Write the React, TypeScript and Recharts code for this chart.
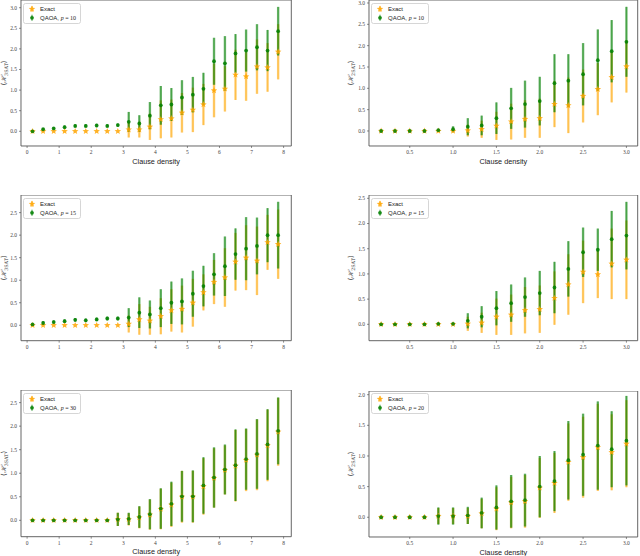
import React from 'react';
import { ScatterChart, Scatter, XAxis, YAxis, ErrorBar, ReferenceArea } from 'recharts';

// clause densities (x) for the 3-SAT (left) and 2-SAT (right) panels
const density3 = [0.17, 0.5, 0.83, 1.17, 1.5, 1.83, 2.17, 2.5, 2.83, 3.17, 3.5, 3.83, 4.17, 4.5, 4.83, 5.17, 5.5, 5.83, 6.17, 6.5, 6.83, 7.17, 7.5, 7.83];
const density2 = [0.17, 0.33, 0.5, 0.67, 0.83, 1.0, 1.17, 1.33, 1.5, 1.67, 1.83, 2.0, 2.17, 2.33, 2.5, 2.67, 2.83, 3.0];

const ticks3 = [0, 1, 2, 3, 4, 5, 6, 7, 8];
const ticks2 = [0.5, 1.0, 1.5, 2.0, 2.5, 3.0];

// 3-SAT, p = 10
const exact3p10 = [0, 0, 0, 0, 0, 0, 0, 0, 0, 0.04, 0.04, 0.11, 0.29, 0.31, 0.45, 0.52, 0.65, 0.99, 1.03, 1.37, 1.33, 1.57, 1.55, 1.93];
const exact3p10Std = [0, 0, 0, 0, 0, 0, 0, 0, 0, 0.19, 0.19, 0.32, 0.46, 0.46, 0.48, 0.54, 0.5, 0.65, 0.55, 0.61, 0.59, 0.66, 0.59, 0.67];
const qaoa3p10 = [0.0, 0.05, 0.07, 0.1, 0.13, 0.13, 0.14, 0.13, 0.15, 0.23, 0.19, 0.38, 0.63, 0.65, 0.82, 0.89, 1.03, 1.7, 1.65, 1.89, 1.96, 2.04, 1.96, 2.43];
const qaoa3p10Std = [0.01, 0.03, 0.03, 0.04, 0.04, 0.04, 0.04, 0.04, 0.04, 0.24, 0.2, 0.33, 0.47, 0.4, 0.42, 0.43, 0.39, 0.57, 0.66, 0.47, 0.51, 0.56, 0.5, 0.59];

// 2-SAT, p = 10
const exact2p10 = [0, 0, 0, 0, 0, 0, 0.01, 0.04, 0.12, 0.22, 0.28, 0.3, 0.63, 0.6, 0.82, 0.98, 1.26, 1.51];
const exact2p10Std = [0, 0, 0, 0, 0, 0.01, 0.14, 0.2, 0.33, 0.42, 0.44, 0.46, 0.54, 0.65, 0.62, 0.61, 0.59, 0.61];
const qaoa2p10 = [0, 0, 0, 0, 0.02, 0.04, 0.1, 0.13, 0.3, 0.53, 0.63, 0.7, 1.12, 1.18, 1.33, 1.66, 1.87, 2.09];
const qaoa2p10Std = [0.01, 0.01, 0.01, 0.01, 0.02, 0.07, 0.2, 0.23, 0.37, 0.48, 0.55, 0.57, 0.68, 0.62, 0.73, 0.72, 0.73, 0.82];

// 3-SAT, p = 15
const exact3p15 = [0, 0, 0, 0, 0, 0, 0, 0, 0, 0.03, 0.13, 0.1, 0.2, 0.33, 0.36, 0.5, 0.73, 0.96, 1.06, 1.41, 1.5, 1.43, 1.84, 1.8];
const exact3p15Std = [0, 0, 0, 0, 0, 0, 0, 0, 0, 0.19, 0.34, 0.31, 0.4, 0.47, 0.52, 0.53, 0.4, 0.49, 0.65, 0.64, 0.72, 0.76, 0.61, 0.77];
const qaoa3p15 = [0.02, 0.05, 0.07, 0.09, 0.12, 0.11, 0.13, 0.15, 0.15, 0.17, 0.28, 0.24, 0.38, 0.5, 0.53, 0.7, 0.87, 1.13, 1.31, 1.58, 1.7, 1.76, 2.0, 2.0];
const qaoa3p15Std = [0.02, 0.04, 0.04, 0.04, 0.04, 0.04, 0.04, 0.04, 0.04, 0.21, 0.34, 0.31, 0.42, 0.47, 0.51, 0.51, 0.45, 0.47, 0.66, 0.57, 0.7, 0.63, 0.6, 0.74];

// 2-SAT, p = 15
const exact2p15 = [0, 0, 0, 0, 0, 0, 0.01, 0.03, 0.15, 0.19, 0.28, 0.3, 0.52, 0.79, 1.04, 0.99, 1.2, 1.28];
const exact2p15Std = [0, 0, 0, 0, 0, 0, 0.14, 0.2, 0.36, 0.4, 0.46, 0.47, 0.53, 0.6, 0.62, 0.47, 0.7, 0.78];
const qaoa2p15 = [0, 0, 0, 0, 0.01, 0.01, 0.07, 0.15, 0.32, 0.42, 0.54, 0.62, 0.73, 1.1, 1.43, 1.48, 1.69, 1.76];
const qaoa2p15Std = [0.01, 0.01, 0.01, 0.01, 0.01, 0.01, 0.15, 0.21, 0.34, 0.37, 0.39, 0.44, 0.51, 0.55, 0.49, 0.42, 0.56, 0.67];

// 3-SAT, p = 30
const exact3p30 = [0, 0, 0, 0, 0, 0, 0, 0, 0.02, 0.02, 0.06, 0.12, 0.24, 0.33, 0.5, 0.5, 0.72, 0.9, 1.07, 1.16, 1.28, 1.39, 1.59, 1.88];
const exact3p30Std = [0, 0, 0, 0, 0, 0, 0, 0, 0.14, 0.13, 0.23, 0.32, 0.43, 0.47, 0.55, 0.55, 0.6, 0.63, 0.52, 0.76, 0.66, 0.75, 0.76, 0.72];
const qaoa3p30 = [0, 0, 0, 0, 0, 0, 0, 0, 0.02, 0.03, 0.07, 0.13, 0.25, 0.35, 0.51, 0.51, 0.74, 0.91, 1.08, 1.17, 1.3, 1.41, 1.61, 1.9];
const qaoa3p30Std = [0, 0, 0, 0, 0, 0, 0, 0, 0.14, 0.13, 0.23, 0.32, 0.43, 0.47, 0.54, 0.55, 0.6, 0.64, 0.53, 0.76, 0.65, 0.74, 0.75, 0.71];

// 2-SAT, p = 20
const exact2p20 = [0, 0, 0, 0, 0.02, 0.02, 0.02, 0.06, 0.14, 0.24, 0.26, 0.48, 0.56, 0.9, 0.98, 1.14, 1.06, 1.2];
const exact2p20Std = [0, 0, 0, 0, 0.13, 0.13, 0.13, 0.24, 0.35, 0.42, 0.43, 0.49, 0.49, 0.63, 0.66, 0.71, 0.62, 0.71];
const qaoa2p20 = [0, 0, 0, 0, 0.02, 0.02, 0.03, 0.07, 0.16, 0.26, 0.28, 0.5, 0.59, 0.93, 1.02, 1.17, 1.11, 1.25];
const qaoa2p20Std = [0, 0, 0, 0, 0.14, 0.14, 0.14, 0.25, 0.36, 0.43, 0.43, 0.5, 0.49, 0.64, 0.67, 0.72, 0.62, 0.73];

const ORANGE = '#FFA500';
const GREEN = '#008000';

const toRows = (xs: number[], ys: number[], err: number[]) => xs.map((x, i) => ({ x, y: ys[i], err: err[i] }));

const StarMark = (props: any) => {
  const { cx, cy } = props;
  if (cx == null || cy == null) return null;
  const pts: string[] = [];
  for (let i = 0; i < 10; i++) {
    const r = i % 2 === 0 ? 3.4 : 1.5;
    const a = -Math.PI / 2 + (i * Math.PI) / 5;
    pts.push(`${cx + r * Math.cos(a)},${cy + r * Math.sin(a)}`);
  }
  return <polygon points={pts.join(' ')} fill={ORANGE} fillOpacity={0.85} />;
};

const DotMark = (props: any) => {
  const { cx, cy } = props;
  if (cx == null || cy == null) return null;
  return <circle cx={cx} cy={cy} r={1.9} fill={GREEN} fillOpacity={0.85} />;
};

const tickStyle = { fontSize: 5.5, fontFamily: '"Liberation Serif", serif', fill: '#444' };

function Legend({ p }: { p: number }) {
  return (
    <svg width={58} height={21} style={{ display: 'block' }}>
      <rect x={0.5} y={0.5} width={57} height={20} rx={2} fill="#fff" fillOpacity={0.85} stroke="#ccc" strokeWidth={0.8} />
      <line x1={9} x2={9} y1={3} y2={9} stroke={ORANGE} strokeWidth={1.2} strokeOpacity={0.7} />
      <StarMark cx={9} cy={6} />
      <text x={17} y={8} fontSize={6} fontFamily='"Liberation Sans", sans-serif' fill="#222">Exact</text>
      <line x1={9} x2={9} y1={11.8} y2={17.8} stroke={GREEN} strokeWidth={1.2} strokeOpacity={0.7} />
      <DotMark cx={9} cy={14.8} />
      <text x={17} y={17} fontSize={6} fontFamily='"Liberation Sans", sans-serif' fill="#222">
        QAOA, <tspan fontFamily='"Liberation Serif", serif' fontStyle="italic">p</tspan>
        <tspan fontFamily='"Liberation Serif", serif'> = {p}</tspan>
      </text>
    </svg>
  );
}

interface PanelProps {
  left: number;
  top: number;
  w: number;
  h: number;
  xs: number[];
  xDomain: [number, number];
  xTicks: number[];
  yDomain: [number, number];
  yTicks: number[];
  exact: number[];
  exactStd: number[];
  qaoa: number[];
  qaoaStd: number[];
  p: number;
  sat: string;
  xLabel: boolean;
  intTicks: boolean;
}

function Panel(props: PanelProps) {
  const { left, top, w, h, xs, xDomain, xTicks, yDomain, yTicks, exact, exactStd, qaoa, qaoaStd, p, sat, xLabel, intTicks } = props;
  const axisW = 24;
  const xAxisH = xLabel ? 20 : 10;
  const exactRows = toRows(xs, exact, exactStd);
  const qaoaRows = toRows(xs, qaoa, qaoaStd);
  const yMid = h / 2;

  return (
    <div style={{ position: 'absolute', left: left - axisW, top }}>
      <ScatterChart width={axisW + w + 2} height={h + xAxisH} margin={{ top: 0, right: 2, left: 0, bottom: 0 }}>
        <XAxis
          type="number"
          dataKey="x"
          domain={xDomain}
          ticks={xTicks}
          allowDataOverflow
          interval={0}
          height={xAxisH}
          axisLine={false}
          tickLine={{ stroke: '#444', strokeWidth: 0.6 }}
          tickSize={2}
          tickMargin={2.5}
          tick={tickStyle}
          tickFormatter={(v: number) => (intTicks ? String(v) : v.toFixed(1))}
          label={
            xLabel
              ? { value: 'Clause density', position: 'insideBottom', offset: 2.4, fontSize: 7.3, fontFamily: '"Liberation Sans", sans-serif', fill: '#222' }
              : undefined
          }
        />
        <YAxis
          type="number"
          dataKey="y"
          domain={yDomain}
          ticks={yTicks}
          allowDataOverflow
          interval={0}
          width={axisW}
          axisLine={false}
          tickLine={{ stroke: '#444', strokeWidth: 0.6 }}
          tickSize={2}
          tickMargin={2}
          tick={tickStyle}
          tickFormatter={(v: number) => v.toFixed(1)}
        />
        <Scatter data={exactRows} dataKey="y" shape={StarMark} isAnimationActive={false}>
          <ErrorBar dataKey="err" direction="y" width={0} stroke={ORANGE} strokeWidth={2.4} strokeOpacity={0.55} isAnimationActive={false} />
          <ErrorBar dataKey="err" direction="y" width={0} stroke={ORANGE} strokeWidth={0.6} strokeOpacity={0.6} isAnimationActive={false} />
        </Scatter>
        <Scatter data={qaoaRows} dataKey="y" shape={DotMark} isAnimationActive={false}>
          <ErrorBar dataKey="err" direction="y" width={0} stroke={GREEN} strokeWidth={2.4} strokeOpacity={0.55} isAnimationActive={false} />
          <ErrorBar dataKey="err" direction="y" width={0} stroke={GREEN} strokeWidth={0.6} strokeOpacity={0.7} isAnimationActive={false} />
        </Scatter>
        <ReferenceArea
          x1={xDomain[0]}
          x2={xDomain[1]}
          y1={yDomain[0]}
          y2={yDomain[1]}
          fill="none"
          stroke="#555"
          strokeWidth={0.9}
          ifOverflow="visible"
        />
      </ScatterChart>
      <div style={{ position: 'absolute', left: axisW + 2, top: 2.5 }}>
        <Legend p={p} />
      </div>
      <svg style={{ position: 'absolute', left: 0, top: 0, overflow: 'visible' }} width={axisW} height={h}>
        <text
          transform={`translate(${left < 100 ? 9.3 : 7.7}, ${yMid}) rotate(-90)`}
          textAnchor="middle"
          fontSize={7}
          fontFamily='"DejaVu Serif", serif'
          fill="#444"
        >
          ⟨<tspan fontStyle="italic">ℋ</tspan>
          <tspan fontSize={4.8} dy={1.8}>{sat}</tspan>
          <tspan dy={-1.8}>⟩</tspan>
        </text>
      </svg>
    </div>
  );
}

export default function App() {
  return (
    <div style={{ position: 'absolute', left: 0, top: 0, width: 640, height: 556, background: '#fff', overflow: 'hidden' }}>
      <Panel left={20.7} top={0} w={270.3} h={146} xs={density3} xDomain={[-0.19, 8.24]} xTicks={ticks3} yDomain={[-0.357, 3.187]} yTicks={[0, 0.5, 1, 1.5, 2, 2.5, 3]}
        exact={exact3p10} exactStd={exact3p10Std} qaoa={qaoa3p10} qaoaStd={qaoa3p10Std} p={10} sat="3SAT" xLabel intTicks />
      <Panel left={369.3} top={0} w={268.7} h={146} xs={density2} xDomain={[0.03, 3.13]} xTicks={ticks2} yDomain={[-0.352, 3.07]} yTicks={[0, 0.5, 1, 1.5, 2, 2.5, 3]}
        exact={exact2p10} exactStd={exact2p10Std} qaoa={qaoa2p10} qaoaStd={qaoa2p10Std} p={10} sat="2SAT" xLabel intTicks={false} />
      <Panel left={20.7} top={195} w={270.3} h={145.7} xs={density3} xDomain={[-0.19, 8.24]} xTicks={ticks3} yDomain={[-0.342, 2.891]} yTicks={[0, 0.5, 1, 1.5, 2, 2.5]}
        exact={exact3p15} exactStd={exact3p15Std} qaoa={qaoa3p15} qaoaStd={qaoa3p15Std} p={15} sat="3SAT" xLabel={false} intTicks />
      <Panel left={369.3} top={195} w={268.7} h={145.7} xs={density2} xDomain={[0.03, 3.13]} xTicks={ticks2} yDomain={[-0.325, 2.566]} yTicks={[0, 0.5, 1, 1.5, 2, 2.5]}
        exact={exact2p15} exactStd={exact2p15Std} qaoa={qaoa2p15} qaoaStd={qaoa2p15Std} p={15} sat="2SAT" xLabel={false} intTicks={false} />
      <Panel left={20.7} top={390} w={270.3} h={146.7} xs={density3} xDomain={[-0.19, 8.24]} xTicks={ticks3} yDomain={[-0.348, 2.768]} yTicks={[0, 0.5, 1, 1.5, 2, 2.5]}
        exact={exact3p30} exactStd={exact3p30Std} qaoa={qaoa3p30} qaoaStd={qaoa3p30Std} p={30} sat="3SAT" xLabel intTicks />
      <Panel left={369.3} top={390.7} w={268.7} h={146} xs={density2} xDomain={[0.03, 3.13]} xTicks={ticks2} yDomain={[-0.322, 2.06]} yTicks={[0, 0.5, 1, 1.5, 2]}
        exact={exact2p20} exactStd={exact2p20Std} qaoa={qaoa2p20} qaoaStd={qaoa2p20Std} p={20} sat="2SAT" xLabel intTicks={false} />
    </div>
  );
}
